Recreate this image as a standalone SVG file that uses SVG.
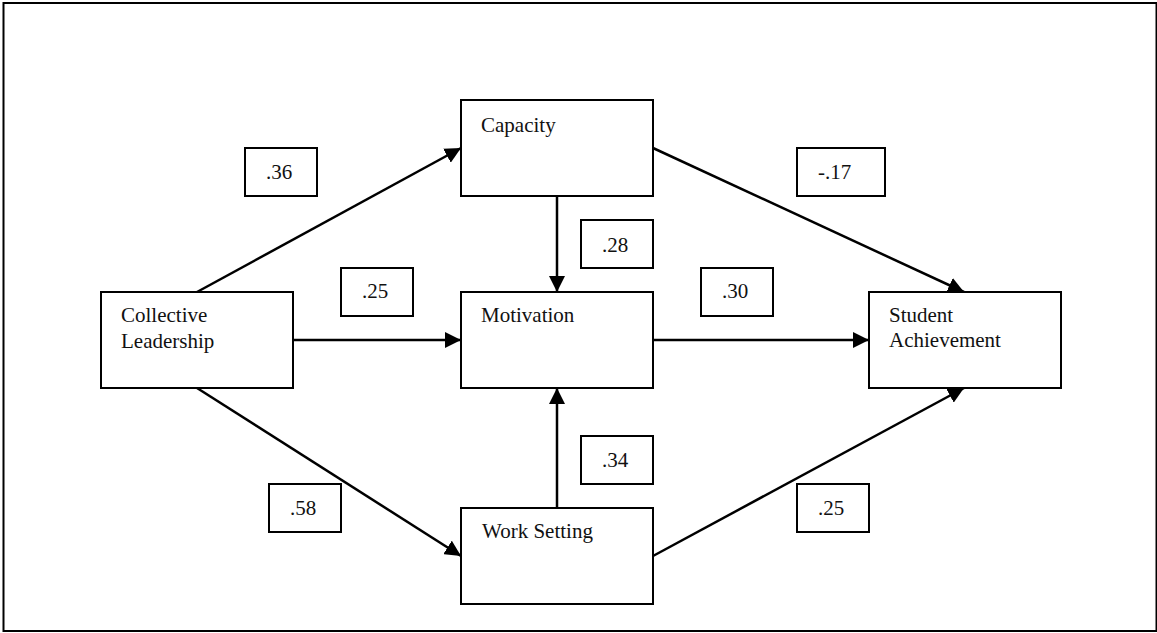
<svg xmlns="http://www.w3.org/2000/svg" width="1157" height="633" viewBox="0 0 1157 633">
  <style>
    .box { fill: #fff; stroke: #000; stroke-width: 2; }
    .frame { fill: none; stroke: #000; stroke-width: 2; }
    .edge { stroke: #000; stroke-width: 2.5; fill: none; marker-end: url(#head); }
    text { font-family: 'Liberation Serif', 'Times New Roman', 'DejaVu Serif', serif; font-size: 21px; fill: #111; }
  </style>
  <defs>
    <marker id="head" markerUnits="userSpaceOnUse" markerWidth="16" markerHeight="16" viewBox="0 0 14 14" refX="14" refY="7" orient="auto">
      <path d="M0,0 L14,7 L0,14 Z" fill="#000"/>
    </marker>
  </defs>

  <rect x="0" y="0" width="1157" height="633" fill="#fff"/>
  <rect class="frame" x="3.5" y="3" width="1153" height="628"/>

  <!-- paths between constructs -->
  <g id="connectors">
    <line class="edge" x1="197" y1="292" x2="461" y2="148"/>
    <line class="edge" x1="293" y1="340" x2="461" y2="340"/>
    <line class="edge" x1="197" y1="388" x2="461" y2="556"/>
    <line class="edge" x1="557" y1="196" x2="557" y2="292"/>
    <line class="edge" x1="557" y1="508" x2="557" y2="388"/>
    <line class="edge" x1="653" y1="148" x2="964" y2="292"/>
    <line class="edge" x1="653" y1="340" x2="869" y2="340"/>
    <line class="edge" x1="653" y1="556" x2="964" y2="388"/>
  </g>

  <g font-family="Liberation Serif, serif">
    <g id="collective-leadership">
      <rect class="box" x="101" y="292" width="192" height="96"/>
      <text x="121" y="322">Collective</text>
      <text x="121" y="348">Leadership</text>
    </g>

    <g id="capacity">
      <rect class="box" x="461" y="100" width="192" height="96"/>
      <text x="481" y="132">Capacity</text>
    </g>

    <g id="motivation">
      <rect class="box" x="461" y="292" width="192" height="96"/>
      <text x="481" y="322">Motivation</text>
    </g>

    <g id="work-setting">
      <rect class="box" x="461" y="508" width="192" height="96"/>
      <text x="482" y="538">Work Setting</text>
    </g>

    <g id="student-achievement">
      <rect class="box" x="869" y="292" width="192" height="96"/>
      <text x="889" y="322">Student</text>
      <text x="889" y="347">Achievement</text>
    </g>

    <!-- path coefficients -->
    <g id="coef-cl-cap">
      <rect class="box" x="245" y="148" width="72" height="48"/>
      <text x="266" y="179">.36</text>
    </g>
    <g id="coef-cl-mot">
      <rect class="box" x="341" y="268" width="72" height="48"/>
      <text x="362" y="298">.25</text>
    </g>
    <g id="coef-cl-ws">
      <rect class="box" x="269" y="484" width="72" height="48"/>
      <text x="290" y="515">.58</text>
    </g>
    <g id="coef-cap-mot">
      <rect class="box" x="581" y="220" width="72" height="48"/>
      <text x="602" y="252">.28</text>
    </g>
    <g id="coef-ws-mot">
      <rect class="box" x="581" y="436" width="72" height="48"/>
      <text x="602" y="467">.34</text>
    </g>
    <g id="coef-mot-sa">
      <rect class="box" x="701" y="268" width="72" height="48"/>
      <text x="722" y="298">.30</text>
    </g>
    <g id="coef-cap-sa">
      <rect class="box" x="797" y="148" width="88" height="48"/>
      <text x="818" y="179">-.17</text>
    </g>
    <g id="coef-ws-sa">
      <rect class="box" x="797" y="484" width="72" height="48"/>
      <text x="818" y="515">.25</text>
    </g>
  </g>
</svg>
